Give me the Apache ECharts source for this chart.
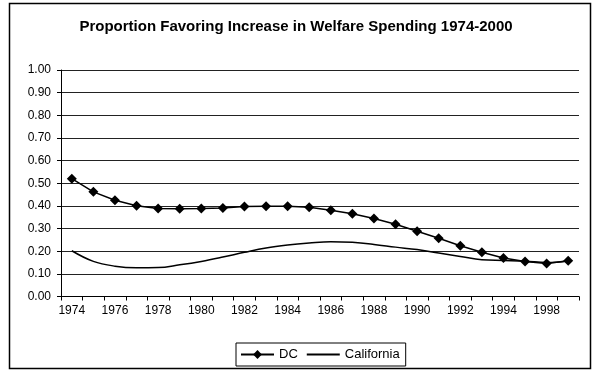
<!DOCTYPE html>
<html>
<head>
<meta charset="utf-8">
<style>
  html, body { margin: 0; padding: 0; background: #fff; }
  #chart { width: 592px; height: 370px; }
</style>
<script src="https://cdn.jsdelivr.net/npm/echarts@6/dist/echarts.min.js"></script>
</head>
<body>
<div id="chart"></div>
<script>
// Survey years (1995 and 1997 skipped)
const years = ['1974','1975','1976','1977','1978','1979','1980','1981','1982','1983','1984',
  '1985','1986','1987','1988','1989','1990','1991','1992','1993','1994','1996','1998','2000'];

// Proportion favoring increased welfare spending
const dcValues = [0.52, 0.462, 0.425, 0.401, 0.389, 0.387, 0.388, 0.391, 0.397, 0.398, 0.398,
  0.394, 0.381, 0.365, 0.344, 0.319, 0.288, 0.257, 0.224, 0.195, 0.170, 0.155, 0.146, 0.158];
const californiaValues = [0.202, 0.155, 0.134, 0.127, 0.128, 0.140, 0.155, 0.174, 0.195, 0.214, 0.227,
  0.236, 0.242, 0.239, 0.230, 0.218, 0.207, 0.192, 0.177, 0.162, 0.159, 0.156, 0.150, 0.157];

const font = "'Liberation Sans', Arial, sans-serif";

const chart = echarts.init(document.getElementById('chart'), null, { renderer: 'canvas' });
chart.setOption({
  animation: false,
  backgroundColor: '#fff',
  textStyle: { fontFamily: font, color: '#000' },
  title: {
    text: 'Proportion Favoring Increase in Welfare Spending 1974-2000',
    left: 'center',
    top: 14,
    textStyle: { fontFamily: font, fontSize: 15, fontWeight: 'bold', color: '#000' }
  },
  graphic: [{
    type: 'rect',
    shape: { x: 9.5, y: 3.5, width: 581, height: 365 },
    style: { fill: 'none', stroke: '#000', lineWidth: 1.5 },
    silent: true
  }],
  legend: {
    left: 236,
    top: 343,
    padding: [5, 6, 5, 4],
    itemWidth: 33,
    itemHeight: 11,
    itemGap: 8,
    borderColor: '#000',
    borderWidth: 1,
    textStyle: { fontFamily: font, fontSize: 13, color: '#000' },
    data: [
      { name: 'DC' },
      // plain line key for the unmarked series
      { name: 'California', itemStyle: { opacity: 0 } }
    ]
  },
  grid: { left: 61, right: 13, top: 70, bottom: 73.5, containLabel: false },
  xAxis: {
    type: 'category',
    data: years,
    boundaryGap: true,
    axisLine: { lineStyle: { color: '#000', width: 1 } },
    axisTick: { show: true, interval: 0, length: 4, lineStyle: { color: '#000' } },
    axisLabel: { interval: 1, fontFamily: font, fontSize: 12, color: '#000', margin: 8 },
    splitLine: { show: false }
  },
  yAxis: {
    type: 'value',
    min: 0,
    max: 1,
    interval: 0.1,
    axisLine: { show: true, lineStyle: { color: '#000', width: 1 } },
    axisTick: { show: true, length: 4, lineStyle: { color: '#000' } },
    axisLabel: {
      fontFamily: font, fontSize: 12, color: '#000', margin: 10,
      formatter: v => v.toFixed(2)
    },
    splitLine: { show: true, lineStyle: { color: '#222', width: 1 } }
  },
  series: [
    {
      name: 'DC',
      type: 'line',
      data: dcValues,
      symbol: 'diamond',
      symbolSize: 10,
      itemStyle: { color: '#000' },
      lineStyle: { color: '#000', width: 1.5 }
    },
    {
      name: 'California',
      type: 'line',
      data: californiaValues,
      smooth: 0.4,
      symbol: 'none',
      itemStyle: { color: '#000' },
      lineStyle: { color: '#000', width: 1.5 }
    }
  ]
});
</script>
</body>
</html>
